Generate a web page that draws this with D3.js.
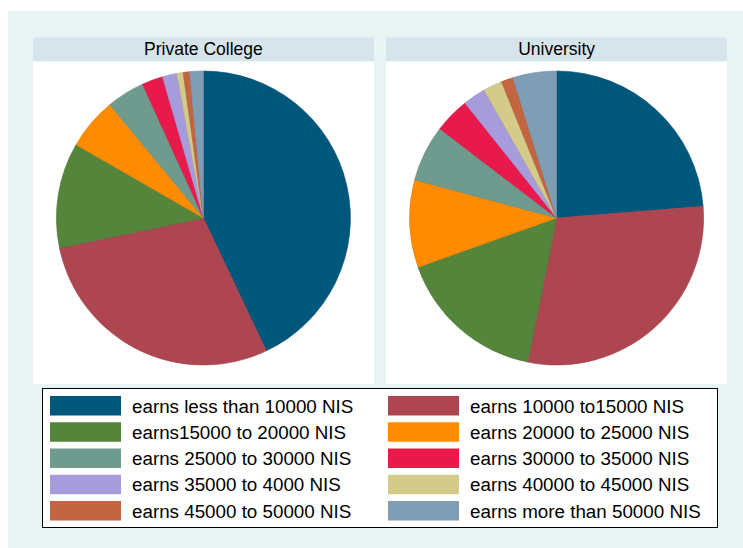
<!DOCTYPE html>
<html>
<head>
<meta charset="utf-8">
<script src="https://cdn.jsdelivr.net/npm/d3@7"></script>
<style>
  body { margin: 0; background: #ffffff; }
  text { font-family: "Liberation Sans", Arial, sans-serif; fill: #000; }
</style>
</head>
<body>
<div id="chart"></div>
<script>
// income categories (legend order = slice order)
var categories = [
  "earns less than 10000 NIS",
  "earns 10000 to15000 NIS",
  "earns15000 to 20000 NIS",
  "earns 20000 to 25000 NIS",
  "earns 25000 to 30000 NIS",
  "earns 30000 to 35000 NIS",
  "earns 35000 to 4000 NIS",
  "earns 40000 to 45000 NIS",
  "earns 45000 to 50000 NIS",
  "earns more than 50000 NIS"
];

var panels = ["Private College", "University"];

// percent shares
var privateCollege = [43.0, 28.8, 11.6, 5.7, 4.2, 2.3, 1.6, 0.7, 0.7, 1.5];
var university = [23.7, 29.4, 16.4, 9.6, 6.2, 3.9, 2.5, 2.1, 1.3, 4.8];

var colors = ["#00577c", "#ad4650", "#55843b", "#ff8c00", "#6f9a8e",
              "#e81a4b", "#a69bdb", "#d4ca8a", "#c26540", "#7f9db4"];

var width = 743, height = 548;

var svg = d3.select("#chart").append("svg")
    .attr("width", width)
    .attr("height", height);

// outer background
svg.append("rect")
    .attr("x", 8).attr("y", 11)
    .attr("width", width - 8).attr("height", height - 11)
    .style("fill", "#e8f3f3");

var color = d3.scaleOrdinal().domain(categories).range(colors);

var panelX = d3.scaleBand()
    .domain(panels)
    .range([33, 727])
    .paddingInner(0.035);

var pie = d3.pie().sort(null).value(function(d) { return d.value; });
var radius = 147;
var arc = d3.arc().innerRadius(0).outerRadius(radius);

var series = [privateCollege, university];

panels.forEach(function(name, k) {
  var x0 = panelX(name), w = panelX.bandwidth();
  var g = svg.append("g");

  // title strip
  g.append("rect")
      .attr("x", x0).attr("y", 37.5)
      .attr("width", w).attr("height", 24)
      .style("fill", "#d5e5eb");
  g.append("text")
      .attr("x", x0 + w / 2)
      .attr("y", 55)
      .attr("text-anchor", "middle")
      .style("font-size", "17.5px")
      .text(name);

  // plot region
  g.append("rect")
      .attr("x", x0).attr("y", 61.5)
      .attr("width", w).attr("height", 322.5)
      .style("fill", "#ffffff");

  var data = categories.map(function(c, i) { return {cat: c, value: series[k][i]}; });

  g.append("g")
      .attr("transform", "translate(" + (x0 + w / 2) + ",218)")
    .selectAll("path")
      .data(pie(data))
    .enter().append("path")
      .attr("d", arc)
      .style("fill", function(d) { return color(d.data.cat); })
      .style("stroke", function(d) { return d3.color(color(d.data.cat)).darker(0.3); })
      .style("stroke-width", 0.6);
});

// legend
var legend = svg.append("g");
legend.append("rect")
    .attr("x", 42.5).attr("y", 388.5)
    .attr("width", 675).attr("height", 139)
    .style("fill", "#ffffff")
    .style("stroke", "#000")
    .style("stroke-width", 1);

var colX = d3.scaleOrdinal().domain([0, 1]).range([50, 388]);
var rowY = d3.scaleLinear().domain([0, 4]).range([396, 501]);

var item = legend.selectAll(".item")
    .data(categories)
  .enter().append("g")
    .attr("class", "item")
    .attr("transform", function(d, i) {
      return "translate(" + colX(i % 2) + "," + rowY(Math.floor(i / 2)) + ")";
    });

item.append("rect")
    .attr("width", 71)
    .attr("height", 19.5)
    .style("fill", function(d) { return color(d); });

item.append("text")
    .attr("x", 82)
    .attr("y", 16.5)
    .style("font-size", "18.8px")
    .text(function(d) { return d; });
</script>
</body>
</html>
